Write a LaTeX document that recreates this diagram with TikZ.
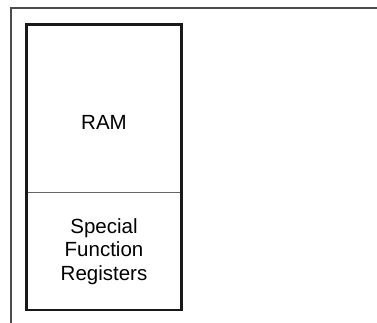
\documentclass[tikz,border=0pt]{standalone}
\usepackage{fontspec}
\setmainfont{Liberation Sans}
\usetikzlibrary{positioning}

\begin{document}
\begin{tikzpicture}[
  x=1pt, y=1pt,
  frameline/.style={draw=black!70, line width=1.5pt},
  memblock/.style={draw=black!60, line width=0.8pt, minimum width=154pt, align=center, inner sep=0pt, font=\fontsize{20.5}{23.5}\selectfont},
  outline/.style={draw=black!90, line width=2.5pt}
]
\useasboundingbox (0,0) rectangle (377,323);
\draw[frameline] (11,0) -- (11,315) -- (377,315);
\node[memblock, minimum height=167pt, label={[font=\fontsize{20.5}{23.5}\selectfont, yshift=-13.5pt]center:RAM}] (ram) at (104,214.5) {};
\node[memblock, minimum height=117pt, below=0pt of ram] (sfr) {Special\\Function\\Registers};
\draw[outline] (ram.north west) rectangle (sfr.south east);
\end{tikzpicture}
\end{document}
